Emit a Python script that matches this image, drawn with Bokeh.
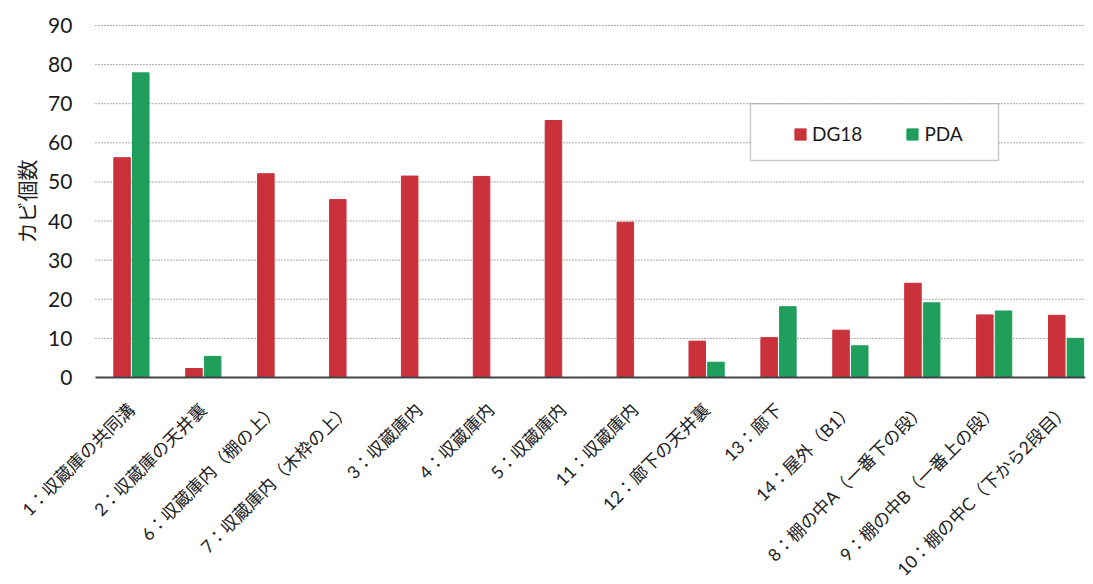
import math
from bokeh.plotting import figure
from bokeh.models import (ColumnDataSource, Range1d, Legend, LegendItem,
                          BoxAnnotation, LabelSet, Label)
from bokeh.core.properties import value
from bokeh.embed import file_html
from bokeh.resources import INLINE

categories = [
    "1：収蔵庫の共同溝",
    "2：収蔵庫の天井裏",
    "6：収蔵庫内（棚の上）",
    "7：収蔵庫内（木枠の上）",
    "3：収蔵庫内",
    "4：収蔵庫内",
    "5：収蔵庫内",
    "11：収蔵庫内",
    "12：廊下の天井裏",
    "13：廊下",
    "14：屋外（B1）",
    "8：棚の中A（一番下の段）",
    "9：棚の中B（一番上の段）",
    "10：棚の中C（下から2段目）",
]
dg18 = [56.2, 2.3, 52.1, 45.5, 51.5, 51.4, 65.7, 39.7, 9.3, 10.2, 12.1, 24.1, 16.0, 15.9]
pda = [77.9, 5.4, None, None, None, None, None, None, 3.9, 18.1, 8.1, 19.1, 17.0, 10.0]
y_ticks = [0, 10, 20, 30, 40, 50, 60, 70, 80, 90]
y_title = "カビ個数"

RED = "#c9323b"
GREEN = "#1f9e5c"
FONT_CJK = "Lato, 'Noto Sans CJK JP', sans-serif"
FONT_NUM = "Lato"

# plot-area extent (data units) and the wider view that also holds the texts
X0, X1 = -0.5, 13.27
VIEW_X0 = -1.821
VIEW_Y0, VIEW_Y1 = -52.93, 96.39

idx = list(range(len(categories)))
src_dg = ColumnDataSource(dict(x=[i - 0.13 for i in idx], top=dg18))
px = [i + 0.13 for i, v in zip(idx, pda) if v is not None]
pv = [v for v in pda if v is not None]
src_pda = ColumnDataSource(dict(x=px, top=pv))
src_lab = ColumnDataSource(dict(x=idx, y=[0] * len(idx), text=categories))
src_yt = ColumnDataSource(dict(x=[X0] * len(y_ticks), y=y_ticks, text=[str(t) for t in y_ticks]))
grid_y = y_ticks[1:]

p = figure(width=1090, height=584, output_backend="svg", toolbar_location=None,
           x_range=Range1d(VIEW_X0, X1), y_range=Range1d(VIEW_Y0, VIEW_Y1),
           min_border_left=0, min_border_right=5, min_border_top=0, min_border_bottom=0)
p.outline_line_color = None
p.background_fill_color = "white"
p.border_fill_color = "white"
p.axis.visible = False
p.grid.visible = False

# dotted value grid
p.segment(x0=[X0] * len(grid_y), x1=[X1] * len(grid_y), y0=grid_y, y1=grid_y,
          line_color="#5a5a5a", line_dash="1 2", line_width=1)

r1 = p.vbar(x="x", top="top", width=0.23, bottom=0, source=src_dg, color=RED)
r2 = p.vbar(x="x", top="top", width=0.23, bottom=0, source=src_pda, color=GREEN)

# zero line (category axis line)
p.segment(x0=[X0], x1=[X1], y0=[y_ticks[0]], y1=[y_ticks[0]],
          line_color="#444444", line_width=2)

# value tick labels
p.add_layout(LabelSet(x="x", y="y", text="text", source=src_yt,
                      x_offset=-23, text_align="right", text_baseline="middle",
                      text_font=value(FONT_NUM), text_font_size=value("21px"),
                      text_color="#1a1a1a"))

# value axis title
p.add_layout(Label(x=VIEW_X0, y=45, x_offset=26, text=y_title, angle=math.pi / 2,
                   text_align="center", text_baseline="middle",
                   text_font=FONT_CJK, text_font_size="21px", text_color="#222222"))

# category labels, rotated, hanging below the axis
p.add_layout(LabelSet(x="x", y="y", text="text", source=src_lab,
                      angle=math.pi / 4, text_align="right", text_baseline="middle",
                      x_offset=0, y_offset=-29,
                      text_font=value(FONT_CJK), text_font_size=value("17.5px"),
                      text_color="#222222"))

# legend frame
p.add_layout(BoxAnnotation(left=8.61, right=12.06, top=70.0, bottom=55.5,
                           fill_color="white", fill_alpha=1.0,
                           line_color="#555555", line_width=1.5))

legend = Legend(items=[LegendItem(label="DG18", renderers=[r1]),
                       LegendItem(label="PDA", renderers=[r2])],
                orientation="horizontal", location=(783, 429),
                background_fill_alpha=0, border_line_alpha=0,
                glyph_width=14, glyph_height=14, label_standoff=5,
                spacing=43, padding=10, margin=0,
                label_text_font=FONT_NUM, label_text_font_size="19px",
                label_text_color="#1a1a1a")
p.add_layout(legend, "center")

open("out.html", "w").write(file_html(p, INLINE))
